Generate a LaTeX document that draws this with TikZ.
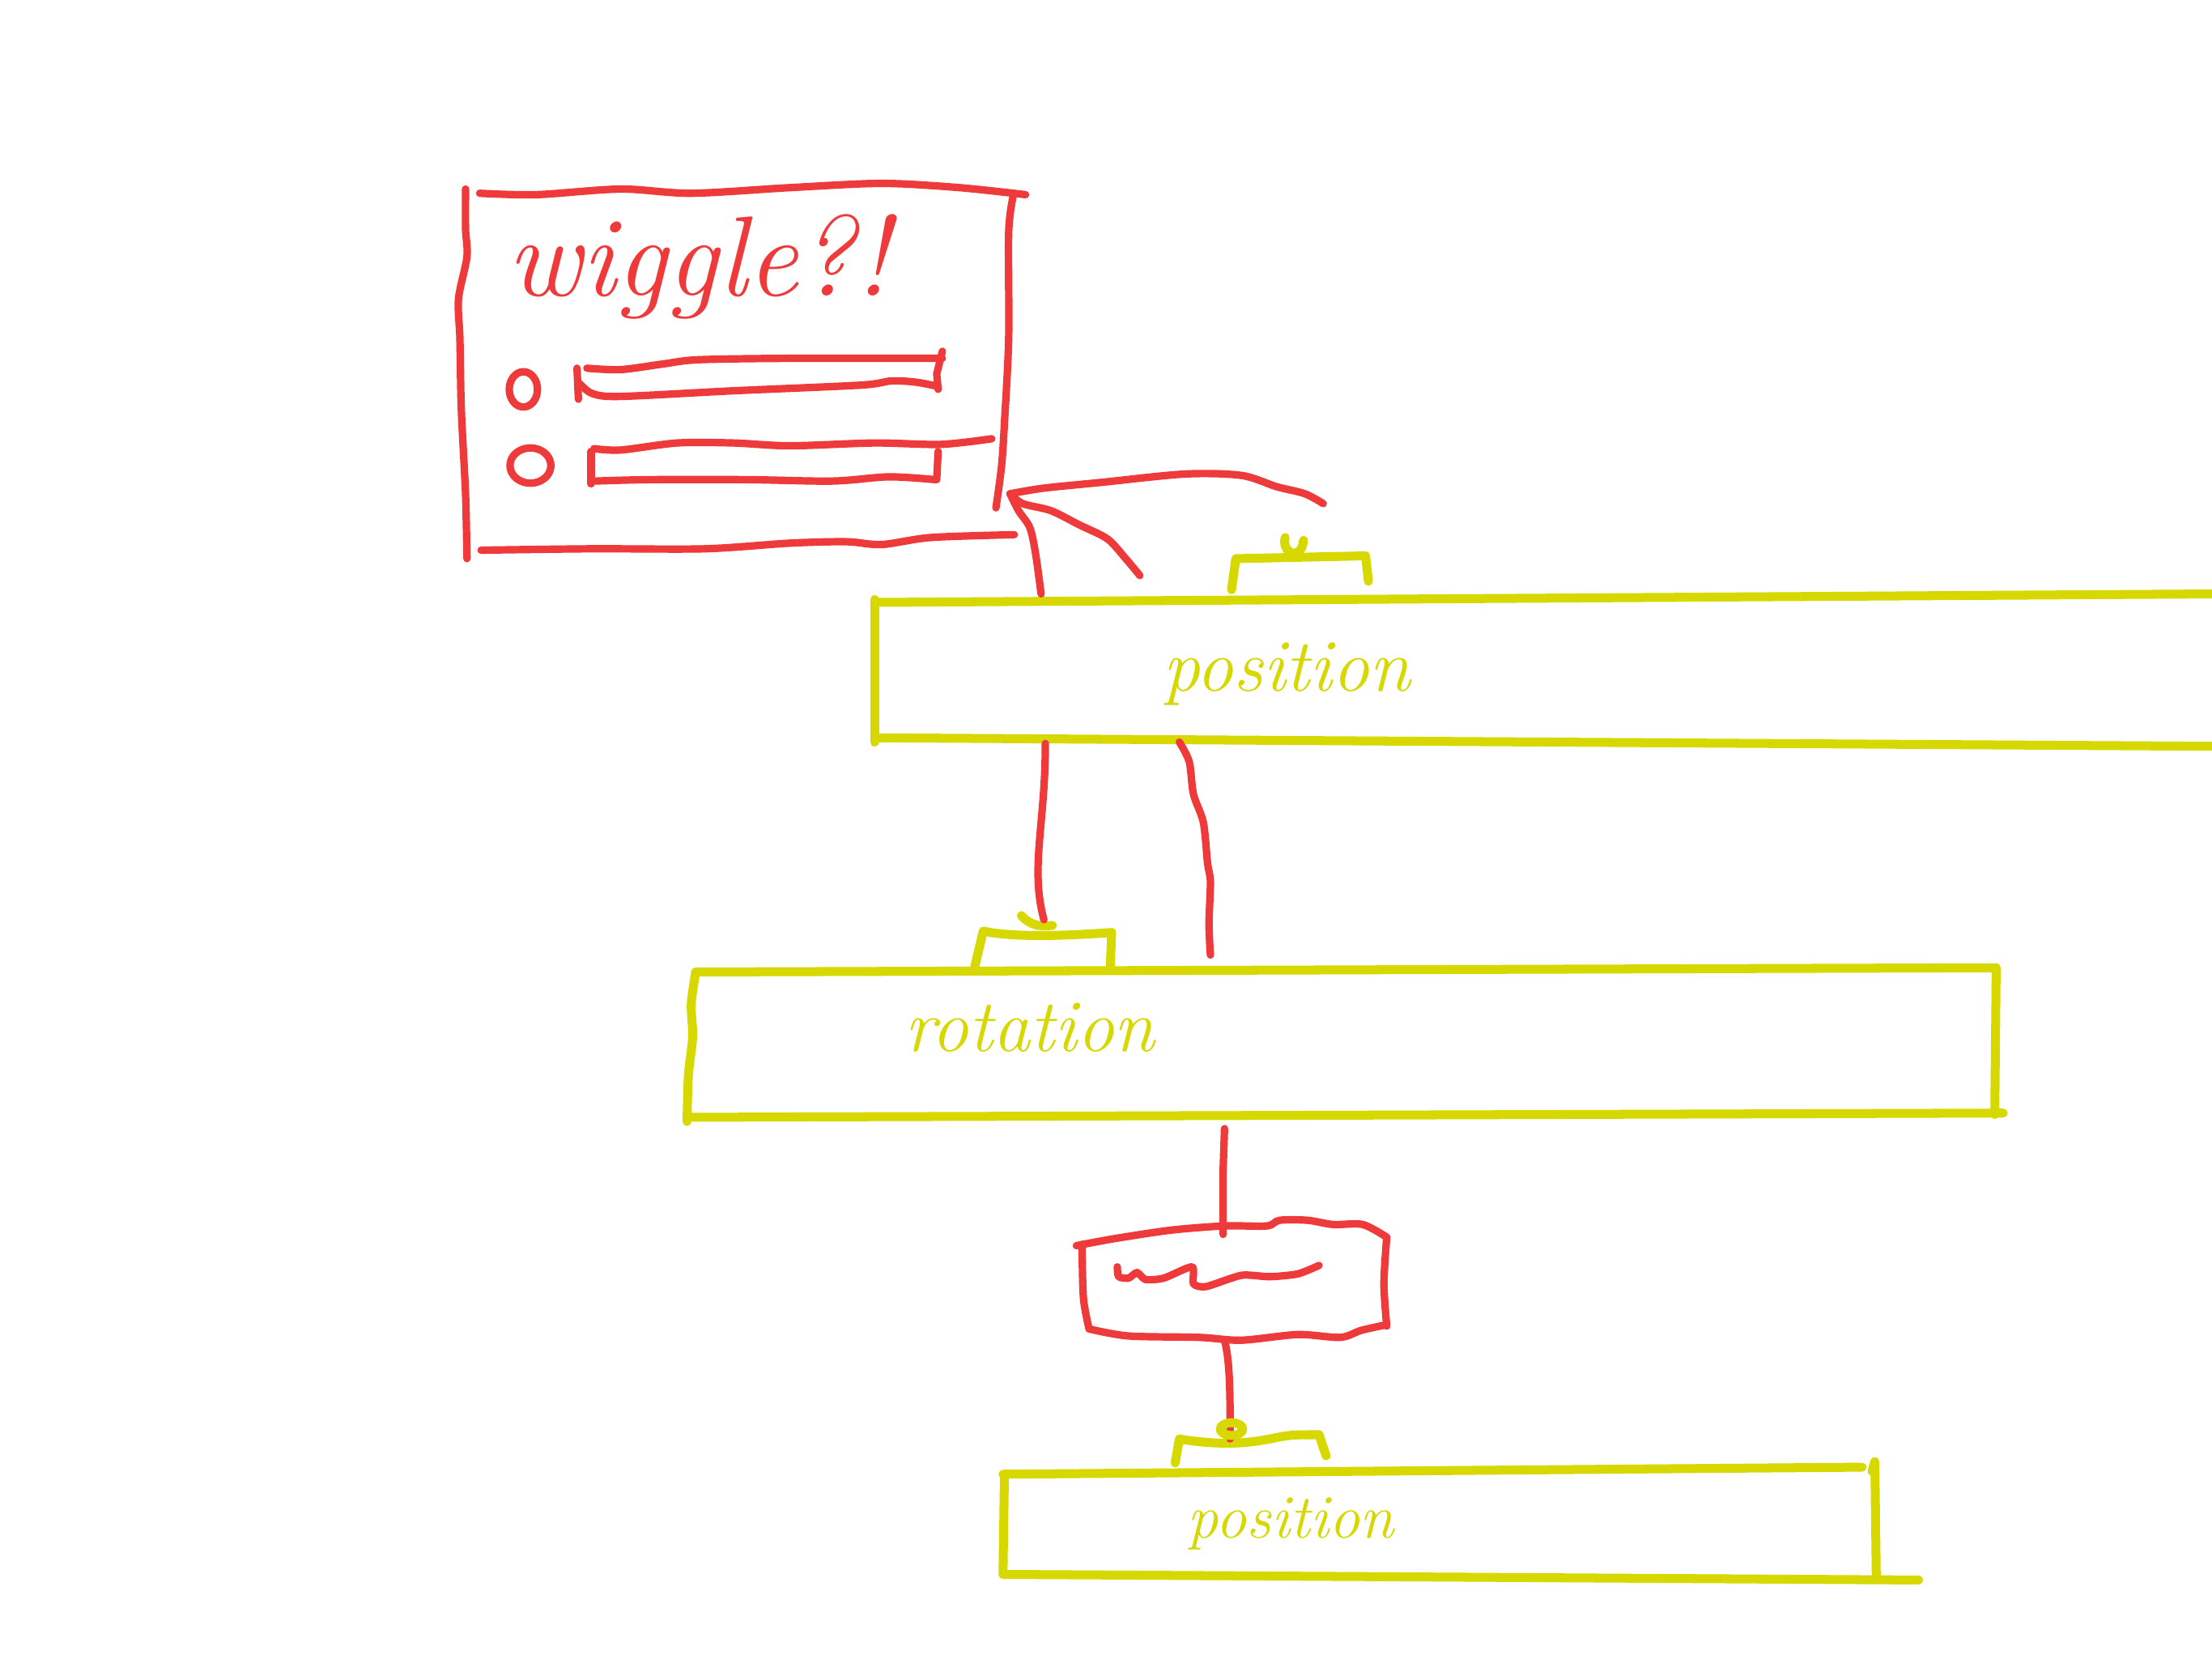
\documentclass[tikz,border=0pt]{standalone}

\definecolor{feutre}{RGB}{238,58,58}
\definecolor{surligne}{RGB}{214,216,0}

\tikzset{
    rouge/.style={draw=feutre, line width=1.5pt, line cap=round, line join=round},
    jaune/.style={draw=surligne, line width=1.8pt, line cap=round, line join=round},
    etiquette/.style={text=surligne, inner sep=0pt, anchor=base, font=\itshape\fontsize{15}{17}\selectfont},
}

\begin{document}
\begin{tikzpicture}[x=0.1mm, y=-0.1mm]
        \useasboundingbox (0,0) rectangle (1568,1176);

        % points d'accroche des liens
        \coordinate (tip) at (716,350);
        \coordinate (freeTop) at (938,357);
        \coordinate (freeMid) at (808,408);
        \coordinate (pos1In) at (738,421);
        \coordinate (pos1OutA) at (741,527);
        \coordinate (pos1OutB) at (836,526);
        \coordinate (rotIn) at (740,652);
        \coordinate (rotFree) at (858,677);
        \coordinate (rotOut) at (868,800);
        \coordinate (wigIn) at (867,875);
        \coordinate (wigOut) at (868,950);
        \coordinate (pos2In) at (872,1020);

        % panneau wiggle
        \draw[rouge] plot[smooth] coordinates {(340,137) (380,138) (440,134) (490,137) (560,133) (625,130) (680,133) (727,138)};
        \draw[rouge] plot[smooth] coordinates {(330,134) (330,162) (331,182) (325,212) (326,240) (327,290) (330,350) (331,396)};
        \draw[rouge] plot[smooth] coordinates {(718,140) (715,165) (715,240) (712,300) (710,330) (706,360)};
        \draw[rouge] plot[smooth] coordinates {(341,390) (420,389) (500,389) (560,385) (600,384) (625,386) (660,381) (719,379)};
        \node[etiquette, text=feutre, font=\itshape\fontsize{23}{25}\selectfont] (wiggleTitle) at (495,210) {wiggle?!};

        % boutons radio et champs
        \draw[rouge] (371,276) ellipse (1mm and 1.25mm);
        \draw[rouge] (376,330) ellipse (1.45mm and 1.25mm);
        \draw[rouge] plot[smooth] coordinates {(416,261) (440,262) (470,258) (495,255) (560,254) (668,254)};
        \draw[rouge] (668,249) -- (664,265) -- (665,276);
        \draw[rouge] plot[smooth] coordinates {(411,272) (420,279) (440,281) (520,277) (610,273) (632,270) (650,271) (665,274)};
        \draw[rouge] (409,261) -- (410,283);
        \draw[rouge] plot[smooth] coordinates {(421,318) (440,319) (480,314) (520,314) (560,316) (620,314) (667,315) (703,311)};
        \draw[rouge] (419,320) -- (419,343);
        \draw[rouge] (665,320) -- (664,340);
        \draw[rouge] plot[smooth] coordinates {(422,341) (460,340) (530,340) (590,341) (630,338) (663,340)};

        % boite position du haut
        \draw[jaune] (622,427) -- (1568,421);
        \draw[jaune] (620,425) -- (620,526);
        \draw[jaune] (622,523) -- (1568,529);
        \node[etiquette] (pos1Label) at (912,490) {position};
        \draw[jaune] (873,418) -- (876,396) -- (968,394) -- (970,412);
        \draw[jaune] (911,381) .. controls (909,390) and (916,393) .. (919,392) .. controls (923,389) .. (924,383);

        % boite rotation
        \draw[jaune] (493,689) -- (1415,686);
        \draw[jaune] plot[smooth] coordinates {(493,690) (490,712) (491,735) (488,762) (487,795)};
        \draw[jaune] (488,792) -- (1420,789);
        \draw[jaune] (1415,686) -- (1414,790);
        \node[etiquette] (rotLabel) at (730,745) {rotation};
        \draw[jaune] (691,685) -- (697,660) .. controls (720,665) and (760,663) .. (788,661) -- (787,686);
        \draw[jaune] (724,649) .. controls (730,656) and (738,657) .. (746,656);

        % boite wiggle du milieu
        \draw[rouge] plot[smooth] coordinates {(763,883) (790,878) (830,872) (868,869) (898,869) (907,865) (927,865) (945,868) (966,868) (983,877)};
        \draw[rouge] plot[smooth] coordinates {(767,882) (768,920) (772,942)};
        \draw[rouge] plot[smooth] coordinates {(772,942) (800,947) (850,948) (880,950) (920,946) (950,948) (965,943) (983,939)};
        \draw[rouge] plot[smooth] coordinates {(983,877) (981,910) (983,940)};
        \draw[rouge] plot[smooth, tension=0.4] coordinates {(792,898) (793,905) (800,906) (806,902) (812,907) (825,906) (845,898) (846,910) (855,912) (880,904) (900,905) (920,903) (935,897)};

        % boite position du bas
        \draw[jaune] (711,1045) -- (1320,1040);
        \draw[jaune] (712,1045) -- (711,1116);
        \draw[jaune] (711,1116) -- (1360,1120);
        \draw[jaune] (1327,1043) -- (1329,1036) -- (1330,1118);
        \node[etiquette, font=\itshape\fontsize{12.5}{14}\selectfont] (pos2Label) at (915,1090) {position};
        \draw[jaune] (833,1037) -- (836,1020) .. controls (860,1024) and (880,1024) .. (900,1020) .. controls (915,1017) .. (935,1017) -- (940,1032);

        % liens
        \draw[rouge] plot[smooth] coordinates {(freeTop) (925,350) (905,345) (880,337) (840,336) (780,342) (740,346) (tip)};
        \draw[rouge] plot[smooth] coordinates {(tip) (725,357) (745,362) (765,372) (785,382) (798,396) (freeMid)};
        \draw[rouge] plot[smooth] coordinates {(tip) (722,362) (730,374) (734,392) (pos1In)};
        \draw[rouge] (pos1OutA) .. controls (741,585) and (730,615) .. (rotIn);
        \draw[rouge] plot[smooth] coordinates {(pos1OutB) (843,540) (846,563) (853,583) (856,612) (858,625) (857,655) (rotFree)};
        \draw[rouge] (rotOut) -- (867,830) -- (wigIn);
        \draw[rouge] (wigOut) .. controls (872,965) and (872,990) .. (pos2In);
        \draw[jaune] (873,1013) ellipse (0.8mm and 0.45mm);
    \end{tikzpicture}
\end{document}
